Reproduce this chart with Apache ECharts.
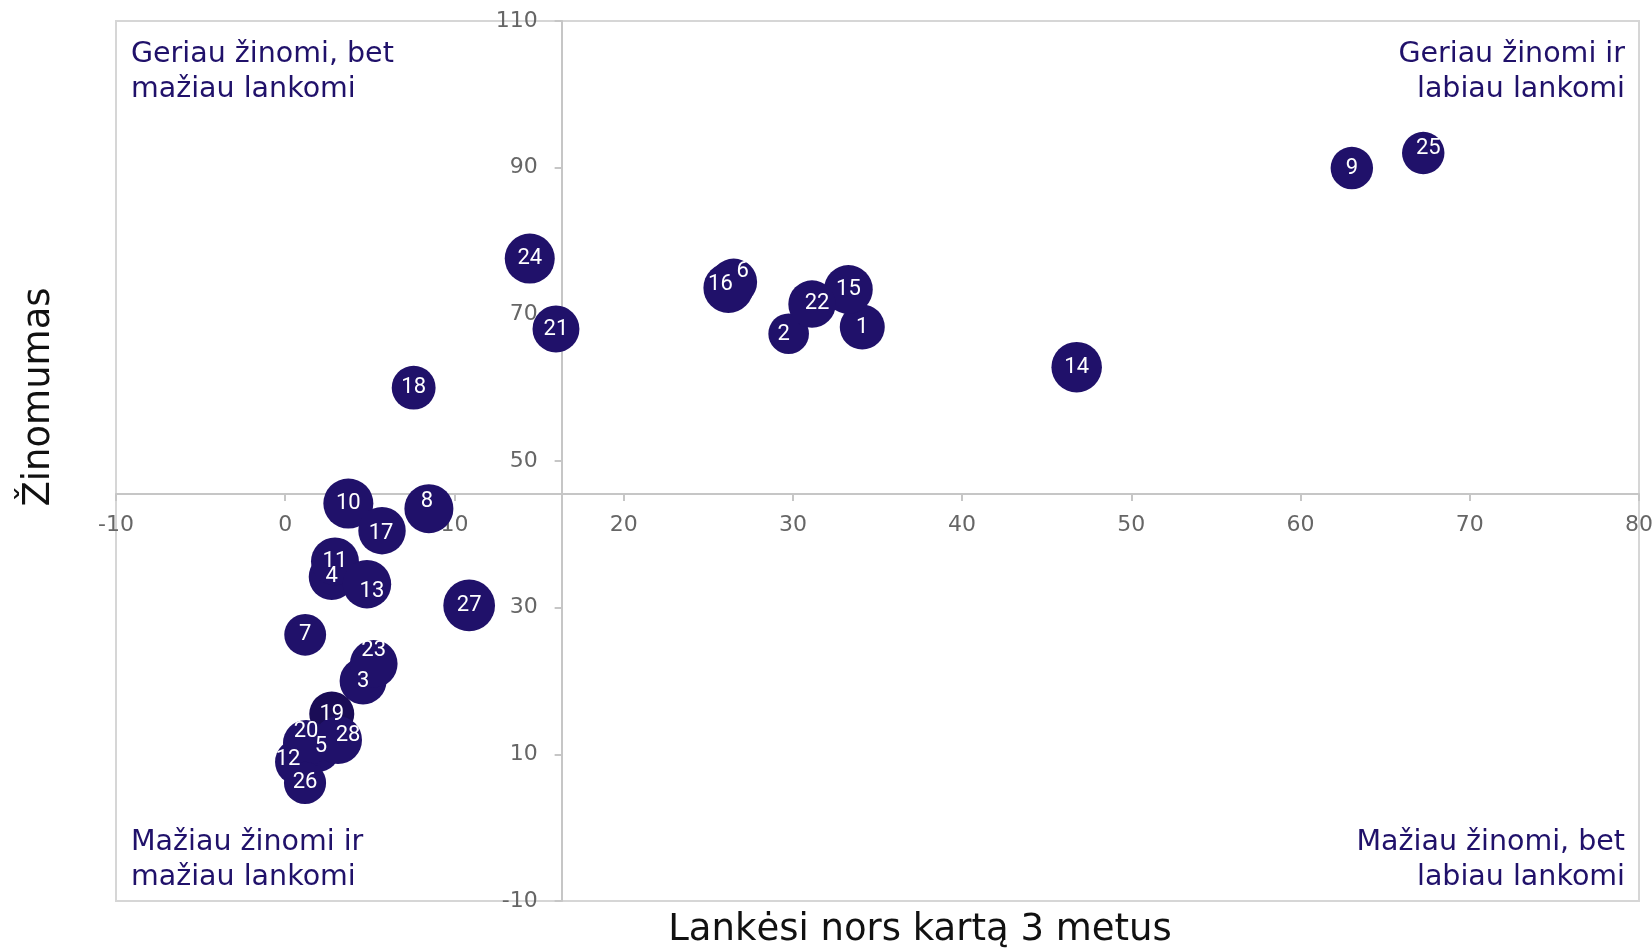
<!DOCTYPE html>
<html>
<head>
<meta charset="utf-8">
<script src="https://cdn.jsdelivr.net/npm/echarts@6/dist/echarts.min.js"></script>
<style>
html,body{margin:0;padding:0;background:#ffffff;}
#chart{width:1652px;height:948px;}
</style>
</head>
<body>
<div id="chart"></div>
<script>
// ---- data ----
const ids        = [1, 2, 3, 4, 5, 6, 7, 8, 9, 10, 11, 12, 13, 14, 15, 16, 17, 18, 19, 20, 21, 22, 23, 24, 25, 26, 27, 28];
const visits     = [34.1, 29.75, 4.6, 2.75, 1.94, 26.5, 1.18, 8.49, 63.03, 3.73, 2.94, 0.76, 4.83, 46.77, 33.28, 26.19, 5.72, 7.59, 2.75, 1.23, 16.0, 31.13, 5.23, 14.45, 67.25, 1.17, 10.87, 3.12];
const awareness  = [68.27, 67.36, 20.0, 34.2, 10.6, 74.4, 26.3, 43.5, 89.95, 44.2, 36.3, 8.95, 33.2, 62.8, 73.4, 73.6, 40.5, 60.0, 15.5, 11.55, 68.0, 71.4, 22.35, 77.6, 92.0, 6.1, 30.3, 11.95];
const bubbleVals = [81, 66, 88, 85, 77, 88, 70, 96, 72, 100, 92, 85, 94, 102, 95, 100, 90, 77, 81, 85, 88, 90, 91, 100, 72, 71, 107, 92];

const xMin = -10, xMax = 80, xStep = 10;
const yMin = -10, yMax = 110, yStep = 20;

const xTitle = 'Lankėsi nors kartą 3 metus';
const yTitle = 'Žinomumas';
const quadrantTexts = {
  tl: 'Geriau žinomi, bet\nmažiau lankomi',
  tr: 'Geriau žinomi ir\nlabiau lankomi',
  bl: 'Mažiau žinomi ir\nmažiau lankomi',
  br: 'Mažiau žinomi, bet\nlabiau lankomi'
};

// ---- styling / layout ----
const W = 1652, H = 948;
const G = { left: 116, right: 13, top: 21, bottom: 47 };
const gridW = W - G.left - G.right;
const gridH = H - G.top - G.bottom;
const NAVY = '#20116a';
const AXIS_GREY = '#c6c6c6';
const TICK_TEXT = '#666666';
const FONT = '"DejaVu Sans", "Noto Sans", sans-serif';

// label nudges (pixels) for crowded bubbles
const labelShift = {6:[9,-11], 16:[-8,-3], 23:[0,-13], 13:[5,7], 8:[-2,-7], 17:[-1,3], 28:[10,-5], 20:[0,-11], 5:[3,-3], 12:[-10,-3], 25:[5,-5], 22:[5,-1], 2:[-5,1]};
const darkerIds = [19];

const mean = a => a.reduce((s, v) => s + v, 0) / a.length;
const meanX = mean(visits);
const meanY = mean(awareness);

// axes cross at the mean values
const xAxisOffset = -((meanY - yMin) / (yMax - yMin)) * gridH;
const yAxisOffset = -((meanX - xMin) / (xMax - xMin)) * gridW;

const seriesData = ids.map((id, i) => {
  const item = { name: String(id), value: [visits[i], awareness[i], bubbleVals[i]] };
  if (labelShift[id]) item.label = { offset: labelShift[id] };
  if (darkerIds.includes(id)) item.itemStyle = { color: '#1a0c56' };
  return item;
});

const chart = echarts.init(document.getElementById('chart'), null, { renderer: 'canvas' });

const axisLineStyle = { color: AXIS_GREY, width: 2 };
const quadStyle = { fill: NAVY, fontSize: 28.5, fontFamily: FONT, lineHeight: 35 };

chart.setOption({
  backgroundColor: '#ffffff',
  animation: false,
  grid: {
    left: G.left, right: G.right, top: G.top, bottom: G.bottom,
    show: true, borderColor: '#d6d6d6', borderWidth: 2, backgroundColor: 'transparent',
    containLabel: false, outerBoundsMode: 'none'
  },
  xAxis: {
    type: 'value', min: xMin, max: xMax, interval: xStep,
    position: 'bottom', offset: xAxisOffset,
    axisLine: { show: true, onZero: false, lineStyle: axisLineStyle },
    axisTick: { show: true, length: 7, lineStyle: axisLineStyle },
    axisLabel: { show: true, margin: 20, color: TICK_TEXT, fontSize: 22, fontFamily: FONT, showMinLabel: true, showMaxLabel: true, hideOverlap: false },
    splitLine: { show: false }
  },
  yAxis: {
    type: 'value', min: yMin, max: yMax, interval: yStep,
    position: 'left', offset: yAxisOffset,
    axisLine: { show: true, onZero: false, lineStyle: axisLineStyle },
    axisTick: { show: true, length: 7, lineStyle: axisLineStyle },
    axisLabel: { show: true, margin: 24, color: TICK_TEXT, fontSize: 22, fontFamily: FONT, showMinLabel: true, showMaxLabel: true, hideOverlap: false },
    splitLine: { show: false }
  },
  series: [{
    type: 'scatter',
    data: seriesData,
    symbol: 'circle',
    symbolSize: v => 5 * Math.sqrt(v[2]),
    itemStyle: { color: NAVY, opacity: 1 },
    label: {
      show: true, position: 'inside', formatter: p => p.name,
      color: '#ffffff', fontSize: 22, fontFamily: 'Roboto, "Noto Sans", sans-serif'
    },
    emphasis: { disabled: true },
    z: 3
  }],
  graphic: [
    { type: 'text', x: 131, y: 37, style: Object.assign({ text: quadrantTexts.tl, align: 'left', verticalAlign: 'top' }, quadStyle), z: 1 },
    { type: 'text', x: 1625, y: 37, style: Object.assign({ text: quadrantTexts.tr, align: 'right', verticalAlign: 'top' }, quadStyle), z: 1 },
    { type: 'text', x: 131, y: 825, style: Object.assign({ text: quadrantTexts.bl, align: 'left', verticalAlign: 'top' }, quadStyle), z: 1 },
    { type: 'text', x: 1625, y: 825, style: Object.assign({ text: quadrantTexts.br, align: 'right', verticalAlign: 'top' }, quadStyle), z: 1 },
    { type: 'text', x: 920, y: 930, style: { text: xTitle, fill: '#111111', fontSize: 37, fontFamily: FONT, align: 'center', verticalAlign: 'middle' } },
    { type: 'text', x: 39, y: 397, rotation: Math.PI / 2, style: { text: yTitle, fill: '#111111', fontSize: 37, fontFamily: FONT, align: 'center', verticalAlign: 'middle' } }
  ]
});
</script>
</body>
</html>
